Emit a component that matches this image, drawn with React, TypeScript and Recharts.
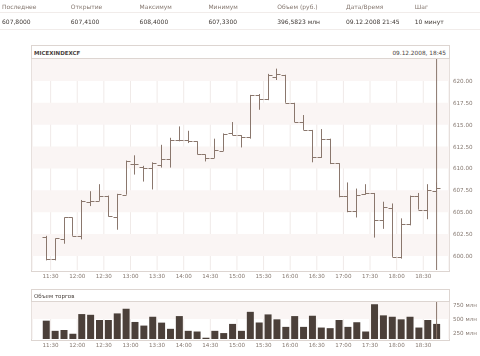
import { Bar, CartesianGrid, ComposedChart, ReferenceArea, ReferenceLine, XAxis, YAxis } from "recharts";

// 10-минутные бары MICEXINDEXCF за 09.12.2008 (время начала бара)
const times = [
  "11:20", "11:30", "11:40", "11:50", "12:00", "12:10", "12:20", "12:30", "12:40", "12:50",
  "13:00", "13:10", "13:20", "13:30", "13:40", "13:50", "14:00", "14:10", "14:20", "14:30",
  "14:40", "14:50", "15:00", "15:10", "15:20", "15:30", "15:40", "15:50", "16:00", "16:10",
  "16:20", "16:30", "16:40", "16:50", "17:00", "17:10", "17:20", "17:30", "17:40", "17:50",
  "18:00", "18:10", "18:20", "18:30", "18:40",
];
const opens = [
  602.2, 599.6, 601.9, 604.4, 602.3, 606.2, 606.3, 606.9, 604.5, 607.0,
  610.5, 610.2, 610.1, 610.4, 611.1, 613.2, 613.2, 613.1, 611.6, 611.2,
  612.0, 614.0, 613.8, 613.6, 618.4, 617.9, 620.5, 620.7, 617.5, 615.3,
  614.4, 611.3, 613.4, 610.6, 606.8, 605.1, 607.1, 607.2, 604.1, 605.5,
  599.9, 603.6, 606.9, 605.3, 607.41,
];
const highs = [
  602.3, 602.0, 604.4, 604.4, 606.4, 607.4, 608.2, 606.9, 607.1, 610.9,
  611.5, 610.3, 610.7, 612.7, 613.5, 614.8, 614.3, 613.1, 611.6, 613.4,
  614.0, 615.3, 613.8, 618.4, 618.5, 620.8, 621.4, 620.7, 617.5, 616.1,
  614.4, 614.5, 613.4, 610.6, 608.4, 607.7, 608.2, 607.2, 606.2, 606.0,
  604.3, 606.9, 607.2, 608.2, 608.4,
];
const lows = [
  599.5, 599.5, 601.4, 602.3, 601.9, 605.7, 606.3, 604.5, 603.0, 607.0,
  609.3, 608.5, 607.6, 610.1, 610.1, 613.1, 612.9, 611.6, 610.8, 611.2,
  612.0, 613.8, 612.4, 613.4, 616.7, 617.8, 620.1, 617.5, 615.3, 614.4,
  610.7, 611.2, 610.5, 606.7, 605.0, 604.4, 607.0, 602.1, 603.1, 599.9,
  599.7, 603.5, 605.3, 604.2, 607.33,
];
const closes = [
  599.6, 602.0, 604.4, 602.3, 606.3, 606.3, 606.9, 604.6, 607.1, 610.8,
  610.5, 610.1, 610.6, 611.1, 613.2, 613.3, 613.1, 611.6, 611.2, 612.1,
  613.9, 613.8, 613.6, 618.4, 617.9, 620.7, 620.8, 617.5, 615.3, 614.4,
  611.3, 613.4, 610.6, 606.8, 605.1, 607.0, 607.2, 604.1, 605.6, 599.9,
  603.6, 606.9, 605.3, 607.5, 607.8,
];
// объем, млн руб.
const volumes = [
  472, 290, 303, 238, 590, 577, 484, 484, 602, 683,
  449, 384, 542, 437, 326, 554, 290, 278, 167, 290,
  250, 414, 290, 630, 437, 584, 496, 361, 554, 361,
  560, 349, 338, 484, 361, 444, 278, 766, 567, 542,
  496, 542, 349, 484, 414,
];

const priceTicks = [600, 602.5, 605, 607.5, 610, 612.5, 615, 617.5, 620];
const volumeTicks = [250, 500, 750];
const timeTicks = ["11:30", "12:00", "12:30", "13:00", "13:30", "14:00", "14:30", "15:00",
  "15:30", "16:00", "16:30", "17:00", "17:30", "18:00", "18:30"];
const cursorTime = "18:45";

const headerLabels = ["Последнее", "Открытие", "Максимум", "Минимум", "Объем (руб.)", "Дата/Время", "Шаг"];
const headerValues = ["607,8000", "607,4100", "608,4000", "607,3300", "396,5823 млн", "09.12.2008 21:45", "10 минут"];

const toMin = (s: string) => {
  const [h, m] = s.split(":").map(Number);
  return h * 60 + m;
};
const fmtMin = (v: number) => `${Math.floor(v / 60)}:${String(v % 60).padStart(2, "0")}`;

// центр бара = начало + 5 минут
const rows = times.map((t, i) => ({
  t: toMin(t) + 5,
  open: opens[i],
  high: highs[i],
  low: lows[i],
  close: closes[i],
  range: [lows[i], highs[i]],
  vol: volumes[i],
}));

const X_DOMAIN = [669, 1139];
const BAR = "#8a776d";
const VOL = "#4b403a";
const SHADE = "#faf5f4";
const GRID = "#f0eae8";
const BORDER = "#ddd5d1";
const TXT = "#857870";
const FONT = "'DejaVu Sans', sans-serif";

const OhlcShape = (props: any) => {
  const { x, y, width, height, payload } = props;
  const top = Math.min(y, y + height);
  const span = Math.abs(height);
  const cx = Math.round(x + width / 2) + 0.5;
  const r = payload.high - payload.low;
  const py = (v: number) => (r > 0 ? top + ((payload.high - v) / r) * span : top);
  const yo = Math.round(py(payload.open)) + 0.5;
  const yc = Math.round(py(payload.close)) + 0.5;
  return (
    <g stroke={BAR} strokeWidth={1}>
      <line x1={cx} x2={cx} y1={top} y2={top + Math.max(span, 1)} />
      <line x1={cx - 4} x2={cx} y1={yo} y2={yo} />
      <line x1={cx} x2={cx + 4} y1={yc} y2={yc} />
    </g>
  );
};

// подписи справа без переноса слов
const RightTick = (fmt: (v: number) => string) => (props: any) => {
  const { x, y, payload } = props;
  return (
    <text x={x} y={y} dy="0.35em" fontSize={5.6} fill={TXT} fontFamily={FONT} textAnchor="start">
      {fmt(payload.value)}
    </text>
  );
};

const tickStyle = { fontSize: 5.6, fill: TXT, fontFamily: FONT };

export default function App() {
  const bands: number[][] = [];
  for (let i = 0; i < priceTicks.length; i += 2) bands.push([priceTicks[i], priceTicks[i + 1] ?? 622.5]);

  return (
    <div style={{ position: "absolute", left: 0, top: 0, width: 480, height: 356, background: "#fff", fontFamily: FONT, overflow: "hidden" }}>
      {/* шапка с последними значениями */}
      <div style={{ position: "absolute", left: 0, top: 0, width: 480, height: 32, willChange: "transform" }}>
        <div style={{ position: "absolute", left: 0, top: 12, width: 480, height: 1, background: "#f1ecea" }} />
        <div style={{ position: "absolute", left: 0, top: 29, width: 480, height: 1, background: "#f1ecea" }} />
        {headerLabels.map((l, i) => (
          <div key={l} style={{ position: "absolute", left: 2 + i * 68.8, top: 3, fontSize: 6, color: TXT, lineHeight: "8px", whiteSpace: "nowrap" }}>{l}</div>
        ))}
        {headerValues.map((v, i) => (
          <div key={v} style={{ position: "absolute", left: 2 + i * 68.8, top: 18, fontSize: 6, color: "#3f3834", lineHeight: "8px", whiteSpace: "nowrap" }}>{v}</div>
        ))}
      </div>

      {/* панель цены */}
      <div style={{ position: "absolute", left: 31, top: 45, width: 417, height: 225, border: `1px solid ${BORDER}` }} />
      <div style={{ position: "absolute", left: 32, top: 58, width: 417, height: 1, background: BORDER }} />
      <div style={{ position: "absolute", left: 34, top: 49, fontSize: 5.5, color: "#4a423d", lineHeight: "8px", fontWeight: "bold" }}>MICEXINDEXCF</div>
      <div style={{ position: "absolute", right: 34, top: 49, fontSize: 5.8, color: "#4a423d", lineHeight: "8px" }}>09.12.2008, 18:45</div>

      <div style={{ position: "absolute", left: 0, top: 0 }}>
        <ComposedChart width={480} height={290} data={rows} margin={{ top: 59, left: 32, right: 0, bottom: 0 }}>
          {bands.map(([a, b]) => (
            <ReferenceArea key={a} y1={a} y2={b} fill={SHADE} fillOpacity={1} stroke="none" ifOverflow="hidden" />
          ))}
          <CartesianGrid horizontal={false} stroke={GRID} />
          <XAxis
            type="number"
            dataKey="t"
            domain={X_DOMAIN}
            ticks={timeTicks.map(toMin)}
            tickFormatter={fmtMin}
            axisLine={false}
            tickLine={false}
            tickSize={0}
            tickMargin={4}
            height={20}
            tick={tickStyle}
            interval={0}
          />
          <YAxis
            orientation="right"
            type="number"
            domain={[598.4, 622.5]}
            ticks={priceTicks}
            axisLine={false}
            tickLine={false}
            tickSize={0}
            tickMargin={4}
            width={31}
            tick={RightTick((v) => v.toFixed(2))}
            interval={0}
          />
          <Bar dataKey="range" barSize={8} shape={OhlcShape} isAnimationActive={false} />
          <ReferenceLine x={toMin(cursorTime)} stroke={BAR} strokeWidth={1} />
        </ComposedChart>
      </div>

      {/* панель объема */}
      <div style={{ position: "absolute", left: 31, top: 289, width: 417, height: 50, border: `1px solid ${BORDER}` }} />
      <div style={{ position: "absolute", left: 32, top: 301, width: 417, height: 1, background: BORDER }} />
      <div style={{ position: "absolute", left: 34, top: 292, fontSize: 5.5, color: "#4a423d", lineHeight: "8px" }}>Объем торгов</div>

      <div style={{ position: "absolute", left: 0, top: 280 }}>
        <ComposedChart width={480} height={76} data={rows} margin={{ top: 22, left: 32, right: 0, bottom: 0 }}>
          <ReferenceArea y1={500} y2={806} fill={SHADE} fillOpacity={1} stroke="none" ifOverflow="hidden" />
          <CartesianGrid horizontal={false} stroke={GRID} />
          <XAxis
            type="number"
            dataKey="t"
            domain={X_DOMAIN}
            ticks={timeTicks.map(toMin)}
            tickFormatter={fmtMin}
            axisLine={false}
            tickLine={false}
            tickSize={0}
            tickMargin={4}
            height={17}
            tick={tickStyle}
            interval={0}
          />
          <YAxis
            orientation="right"
            type="number"
            domain={[144, 806]}
            ticks={volumeTicks}
            axisLine={false}
            tickLine={false}
            tickSize={0}
            tickMargin={4}
            width={31}
            tick={RightTick((v) => `${v} млн`)}
            interval={0}
          />
          <Bar dataKey="vol" barSize={7} fill={VOL} isAnimationActive={false} />
          <ReferenceLine x={toMin(cursorTime)} stroke={BAR} strokeWidth={1} />
        </ComposedChart>
      </div>
    </div>
  );
}
